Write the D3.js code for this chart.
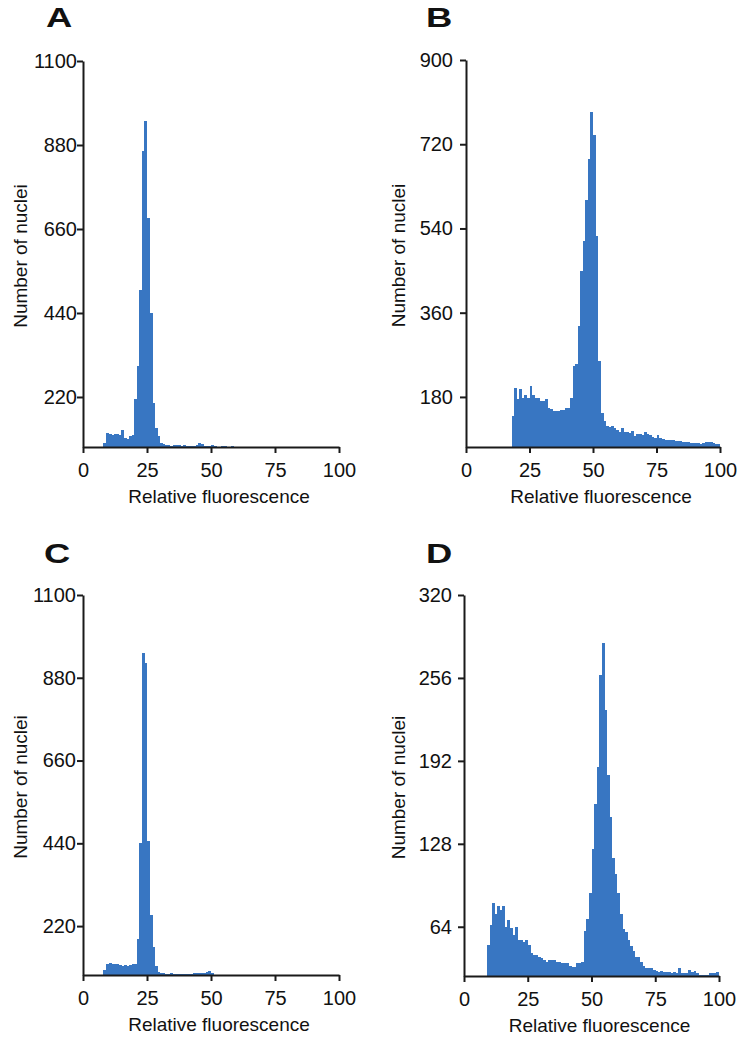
<!DOCTYPE html>
<html>
<head>
<meta charset="utf-8">
<script src="https://cdn.jsdelivr.net/npm/d3@7"></script>
<style>
  body { margin: 0; background: #fff; }
  text { font-family: "Liberation Sans", Arial, sans-serif; fill: #111; }
</style>
</head>
<body>
<svg id="fig"></svg>
<script>
// histogram bins are 1 unit of relative fluorescence wide; each array starts at startX
const xTicks = [0, 25, 50, 75, 100];

const startA = 8;
const countsA = [99, 125, 123, 120, 124, 122, 121, 134, 112, 110, 118, 120,
  216, 300, 499, 865, 944, 690, 440, 205, 140, 118, 100,
  97, 94, 93, 92, 95, 95, 93, 92, 94, 92, 91, 92, 91, 93, 99, 96, 92, 91, 92,
  93, 92, 90, 90, 91, 92, 90, 90, 91, 90];
const yTicksA = [220, 440, 660, 880, 1100];
const yDomainA = [89, 1100];

const startB = 18;
const countsB = [139, 200, 175, 196, 178, 185, 178, 203, 185, 178, 178, 171, 171, 175,
  157, 155, 150, 150, 150, 153, 153, 157, 157, 178, 246, 250, 332, 450, 514, 600,
  689, 789, 740, 524, 257, 146, 128, 118, 116, 117, 114, 110, 106, 113, 104, 106,
  103, 108, 96, 100, 101, 99, 104, 101, 98, 94, 93, 99, 92, 90, 89, 88, 88, 87,
  86, 86, 85, 84, 83, 83, 82, 82, 81, 81, 80, 82, 84, 84, 83, 81, 80, 79];
const yTicksB = [180, 360, 540, 720, 900];
const yDomainB = [73, 900];

const startC = 8;
const countsC = [103, 118, 122, 118, 118, 120, 116, 115, 116, 114, 116, 118, 120,
  185, 440, 945, 920, 445, 250, 165, 115, 98, 95,
  94, 93, 93, 94, 93, 93, 93, 93, 93, 93, 93, 93, 94, 94, 95, 94, 94, 99, 100, 94];
const yTicksC = [220, 440, 660, 880, 1100];
const yDomainC = [90, 1100];

const startD = 9;
const countsD = [50, 65, 82, 74, 80, 77, 80, 64, 69, 63, 58, 64, 54, 54, 52, 54, 50,
  44, 42, 42, 41, 40, 38, 37, 38, 38, 38, 37, 37, 36, 36, 36, 34, 33, 33, 36, 36, 37,
  61, 70, 90, 124, 159, 187, 258, 283, 231, 181, 149, 117, 105, 90, 74, 62, 60, 54,
  49, 45, 41, 41, 37, 34, 32, 32, 32, 31, 30, 29, 30, 29, 29, 29, 28, 29, 28, 32,
  28, 28, 28, 31, 29, 30, 28, 27, 27, 27, 27, 28, 28, 28, 29];
const yTicksD = [64, 128, 192, 256, 320];
const yDomainD = [26, 320];

const BAR = '#3876c2';
const INK = '#1a1a1a';

const svg = d3.select('#fig')
  .attr('width', 740)
  .attr('height', 1051);

const panels = [
  { name: 'A', start: startA, counts: countsA, ticks: yTicksA, domain: yDomainA,
    x0: 83, x1: 339, yTop: 61, yBot: 447, lx: 46, ly: 27, gap: 6, tx: 27 },
  { name: 'B', start: startB, counts: countsB, ticks: yTicksB, domain: yDomainB,
    x0: 466, x1: 720, yTop: 60, yBot: 447, lx: 426, ly: 27, gap: 13, tx: 405 },
  { name: 'C', start: startC, counts: countsC, ticks: yTicksC, domain: yDomainC,
    x0: 83, x1: 339, yTop: 595, yBot: 975, lx: 44, ly: 563, gap: 7, tx: 27 },
  { name: 'D', start: startD, counts: countsD, ticks: yTicksD, domain: yDomainD,
    x0: 464, x1: 719, yTop: 595, yBot: 976, lx: 426, ly: 563, gap: 12, tx: 405 }
];

panels.forEach(p => {
  const g = svg.append('g');

  const x = d3.scaleLinear().domain([0, 100]).range([p.x0, p.x1]);
  const y = d3.scaleLinear().domain(p.domain).range([p.yBot, p.yTop]);

  const bins = p.counts.map((v, i) => ({ x: p.start + i, v: v }));

  g.append('g')
    .selectAll('rect')
    .data(bins)
    .join('rect')
    .attr('x', d => x(d.x))
    .attr('width', d => x(d.x + 1) - x(d.x) + 0.4)
    .attr('y', d => y(d.v))
    .attr('height', d => y(p.domain[0]) - y(d.v))
    .attr('fill', BAR)
    .attr('shape-rendering', 'crispEdges');

  // axes
  const yAxis = g.append('g')
    .attr('transform', `translate(${p.x0},0)`)
    .call(d3.axisLeft(y).tickValues(p.ticks).tickSize(6).tickSizeOuter(0)
      .tickPadding(p.gap - 6).tickFormat(d3.format('d')));

  const xAxis = g.append('g')
    .attr('transform', `translate(0,${p.yBot})`)
    .call(d3.axisBottom(x).tickValues(xTicks).tickSize(6).tickSizeOuter(0)
      .tickPadding(10));

  [yAxis, xAxis].forEach(a => {
    a.select('.domain').attr('stroke', INK).attr('stroke-width', 2);
    a.selectAll('.tick line').attr('stroke', INK).attr('stroke-width', 2);
    a.selectAll('.tick text').attr('font-size', 20).attr('fill', '#111')
      .style('font-family', '"Liberation Sans", Arial, sans-serif');
  });

  // titles
  g.append('text')
    .attr('transform', `translate(${p.tx},${(p.yTop + p.yBot) / 2 + 2}) rotate(-90)`)
    .attr('text-anchor', 'middle')
    .attr('font-size', 19)
    .text('Number of nuclei');

  g.append('text')
    .attr('x', (p.x0 + p.x1) / 2 + 8)
    .attr('y', p.yBot + 56)
    .attr('text-anchor', 'middle')
    .attr('font-size', 19)
    .text('Relative fluorescence');

  g.append('text')
    .attr('transform', `translate(${p.lx},${p.ly}) scale(1.3,1)`)
    .attr('font-size', 28)
    .attr('font-weight', 'bold')
    .text(p.name);
});
</script>
</body>
</html>
